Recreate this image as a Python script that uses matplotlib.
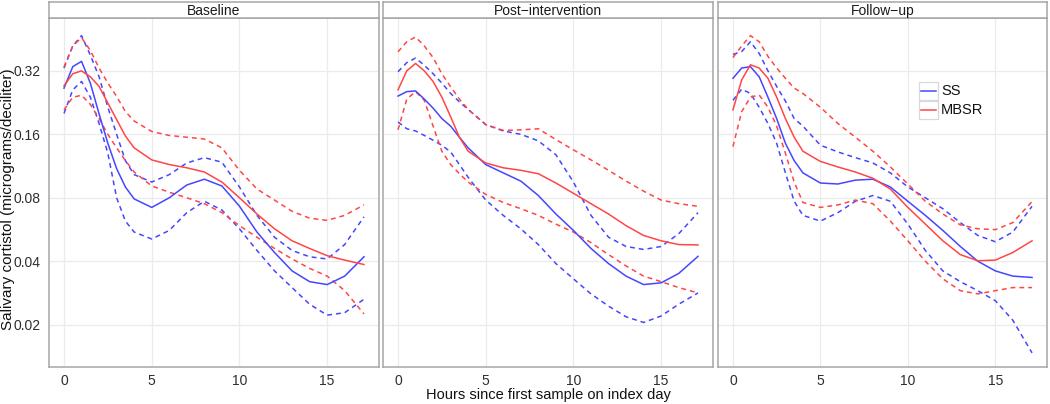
import matplotlib
matplotlib.use("Agg")
import matplotlib.pyplot as plt
from matplotlib.lines import Line2D
from matplotlib.patches import Rectangle
from matplotlib.ticker import NullLocator, FixedLocator, FixedFormatter

plt.rcParams["font.family"] = ["Liberation Sans", "DejaVu Sans"]

# hours since first sample (shared grid of read-off points)
hours = [0, 0.5, 1, 1.5, 2, 2.5, 3, 3.5, 4, 5, 6, 7, 8, 9, 10, 11, 12, 13, 14, 15, 16, 17.1]

# Baseline
base_ss = [0.265, 0.335, 0.355, 0.28, 0.2, 0.145, 0.11, 0.09, 0.079, 0.072, 0.08, 0.092, 0.098, 0.091, 0.073, 0.055, 0.044, 0.036, 0.032, 0.031, 0.034, 0.042]
base_ss_lo = [0.201, 0.26, 0.285, 0.24, 0.18, 0.13, 0.08, 0.062, 0.055, 0.051, 0.056, 0.068, 0.077, 0.07, 0.057, 0.045, 0.036, 0.03, 0.025, 0.0222, 0.0228, 0.0264]
base_ss_hi = [0.33, 0.42, 0.47, 0.38, 0.30, 0.215, 0.16, 0.12, 0.103, 0.095, 0.103, 0.117, 0.124, 0.118, 0.09, 0.066, 0.052, 0.045, 0.042, 0.041, 0.048, 0.065]
base_mbsr = [0.272, 0.31, 0.32, 0.30, 0.27, 0.225, 0.188, 0.157, 0.138, 0.121, 0.115, 0.111, 0.106, 0.095, 0.08, 0.067, 0.057, 0.05, 0.046, 0.0425, 0.0405, 0.0386]
base_mbsr_hi = [0.334, 0.42, 0.46, 0.40, 0.33, 0.28, 0.242, 0.205, 0.185, 0.165, 0.158, 0.155, 0.152, 0.138, 0.108, 0.088, 0.078, 0.069, 0.064, 0.0625, 0.066, 0.074]
base_mbsr_lo = [0.209, 0.24, 0.245, 0.222, 0.19, 0.16, 0.138, 0.12, 0.106, 0.091, 0.085, 0.08, 0.075, 0.068, 0.059, 0.052, 0.046, 0.041, 0.037, 0.034, 0.029, 0.0225]

# Post-intervention
post_ss = [0.243, 0.255, 0.257, 0.235, 0.213, 0.19, 0.175, 0.155, 0.138, 0.115, 0.105, 0.096, 0.082, 0.067, 0.056, 0.046, 0.039, 0.034, 0.031, 0.0316, 0.035, 0.0422]
post_ss_lo = [0.183, 0.17, 0.166, 0.158, 0.15, 0.142, 0.132, 0.115, 0.1, 0.078, 0.066, 0.057, 0.048, 0.039, 0.033, 0.028, 0.0245, 0.0218, 0.0205, 0.022, 0.025, 0.0283]
post_ss_hi = [0.317, 0.35, 0.368, 0.34, 0.31, 0.28, 0.25, 0.228, 0.21, 0.178, 0.166, 0.16, 0.149, 0.128, 0.095, 0.066, 0.052, 0.047, 0.0455, 0.047, 0.054, 0.068]
post_mbsr = [0.26, 0.32, 0.347, 0.32, 0.285, 0.24, 0.194, 0.155, 0.133, 0.117, 0.111, 0.108, 0.104, 0.094, 0.084, 0.075, 0.067, 0.059, 0.053, 0.05, 0.048, 0.0478]
post_mbsr_hi = [0.394, 0.44, 0.463, 0.42, 0.37, 0.31, 0.269, 0.235, 0.21, 0.178, 0.167, 0.168, 0.17, 0.151, 0.135, 0.121, 0.108, 0.096, 0.086, 0.078, 0.075, 0.0729]
post_mbsr_lo = [0.168, 0.235, 0.255, 0.232, 0.175, 0.133, 0.115, 0.104, 0.095, 0.083, 0.076, 0.071, 0.066, 0.06, 0.055, 0.049, 0.043, 0.038, 0.034, 0.032, 0.03, 0.0283]

# Follow-up
fu_ss = [0.295, 0.33, 0.335, 0.30, 0.24, 0.19, 0.145, 0.12, 0.105, 0.094, 0.093, 0.097, 0.098, 0.09, 0.077, 0.066, 0.056, 0.047, 0.04, 0.036, 0.034, 0.0335]
fu_ss_lo = [0.232, 0.262, 0.25, 0.215, 0.18, 0.145, 0.105, 0.077, 0.066, 0.062, 0.068, 0.077, 0.082, 0.077, 0.06, 0.045, 0.036, 0.032, 0.029, 0.026, 0.021, 0.0147]
fu_ss_hi = [0.383, 0.395, 0.44, 0.387, 0.32, 0.27, 0.23, 0.19, 0.175, 0.142, 0.132, 0.124, 0.117, 0.105, 0.09, 0.08, 0.071, 0.061, 0.053, 0.0495, 0.055, 0.0729]
fu_mbsr = [0.209, 0.29, 0.342, 0.33, 0.295, 0.24, 0.19, 0.155, 0.133, 0.119, 0.112, 0.106, 0.099, 0.088, 0.072, 0.06, 0.05, 0.043, 0.0402, 0.0405, 0.044, 0.05]
fu_mbsr_hi = [0.37, 0.42, 0.47, 0.44, 0.375, 0.33, 0.295, 0.265, 0.25, 0.215, 0.18, 0.155, 0.133, 0.112, 0.093, 0.077, 0.067, 0.0595, 0.057, 0.0565, 0.061, 0.0768]
fu_mbsr_lo = [0.14, 0.205, 0.24, 0.246, 0.215, 0.175, 0.13, 0.095, 0.076, 0.072, 0.074, 0.078, 0.075, 0.062, 0.05, 0.04, 0.033, 0.029, 0.028, 0.029, 0.030, 0.030]

panel_titles = ["Baseline", "Post\u2212intervention", "Follow\u2212up"]
group_labels = ["SS", "MBSR"]
y_ticks = [0.02, 0.04, 0.08, 0.16, 0.32]
y_tick_labels = ["0.02", "0.04", "0.08", "0.16", "0.32"]
x_ticks = [0, 5, 10, 15]

panels = [
    (base_ss, base_ss_lo, base_ss_hi, base_mbsr, base_mbsr_lo, base_mbsr_hi),
    (post_ss, post_ss_lo, post_ss_hi, post_mbsr, post_mbsr_lo, post_mbsr_hi),
    (fu_ss, fu_ss_lo, fu_ss_hi, fu_mbsr, fu_mbsr_lo, fu_mbsr_hi),
]

BLUE = "#4646FF"
RED = "#FF4646"
BORDER = "#A6A6A6"
GRID = "#EBEBEB"
TXT = "#2E2E2E"

W, H = 1050, 404
panel_px = [(49, 379), (383, 713), (718, 1047)]
top, bottom, strip_top = 18, 367, 2


def fx(px):
    return px / W


def fy(py):
    return 1 - py / H


fig = plt.figure(figsize=(W / 100, H / 100), dpi=100)

for i, ((x0, x1), title, data) in enumerate(zip(panel_px, panel_titles, panels)):
    ax = fig.add_axes([fx(x0), fy(bottom), (x1 - x0) / W, (bottom - top) / H])
    ss, ss_lo, ss_hi, mb, mb_lo, mb_hi = data
    dash = (0, (3.2, 2.6))
    kw = dict(lw=1.1, solid_joinstyle="round", dash_joinstyle="round")
    ax.plot(hours, ss_hi, color=BLUE, ls=dash, **kw)
    ax.plot(hours, ss_lo, color=BLUE, ls=dash, **kw)
    ax.plot(hours, mb_hi, color=RED, ls=dash, **kw)
    ax.plot(hours, mb_lo, color=RED, ls=dash, **kw)
    ax.plot(hours, ss, color=BLUE, **kw)
    ax.plot(hours, mb, color=RED, **kw)

    ax.set_yscale("log", base=2)
    ax.set_ylim(0.0126, 0.57)
    ax.set_xlim(-0.855, 17.955)
    ax.yaxis.set_major_locator(FixedLocator(y_ticks))
    ax.yaxis.set_major_formatter(FixedFormatter(y_tick_labels))
    ax.yaxis.set_minor_locator(NullLocator())
    ax.set_xticks(x_ticks)
    ax.grid(True, color=GRID, lw=0.9)
    ax.set_axisbelow(True)
    ax.tick_params(length=0, labelsize=10, colors=TXT, pad=5)
    ax.tick_params(axis="y", pad=6)
    if i > 0:
        ax.tick_params(axis="y", labelleft=False)
    for s in ax.spines.values():
        s.set_color(BORDER)
        s.set_linewidth(1.1)

    sax = fig.add_axes([fx(x0), fy(top), (x1 - x0) / W, (top - strip_top) / H])
    sax.set_xticks([])
    sax.set_yticks([])
    for s in sax.spines.values():
        s.set_color(BORDER)
        s.set_linewidth(1.1)
    sax.text(0.5, 0.45, title, ha="center", va="center", fontsize=10, color="#1A1A1A")

# legend drawn in the third panel, ggplot style keys with light borders
for k, (lab, col) in enumerate(zip(group_labels, [BLUE, RED])):
    ky = 82 + k * 18.5
    fig.patches.append(Rectangle((fx(919), fy(ky + 18.5)), 19 / W, 18.5 / H,
                                 transform=fig.transFigure, fill=False,
                                 edgecolor="#D9D9D9", lw=0.9))
    fig.lines.append(Line2D([fx(921), fx(936)], [fy(ky + 9.25)] * 2,
                            transform=fig.transFigure, color=col, lw=1.1))
    fig.text(fx(941), fy(ky + 9.25), lab, ha="left", va="center", fontsize=10.5, color="#111111")

fig.text(fx(8), fy(199), "Salivary cortistol (micrograms/deciliter)", rotation=90,
         ha="center", va="center", fontsize=11, color="#111111")
fig.text(fx(548), fy(395), "Hours since first sample on index day",
         ha="center", va="center", fontsize=10.5, color="#111111")

fig.savefig("out.png", dpi=100)
